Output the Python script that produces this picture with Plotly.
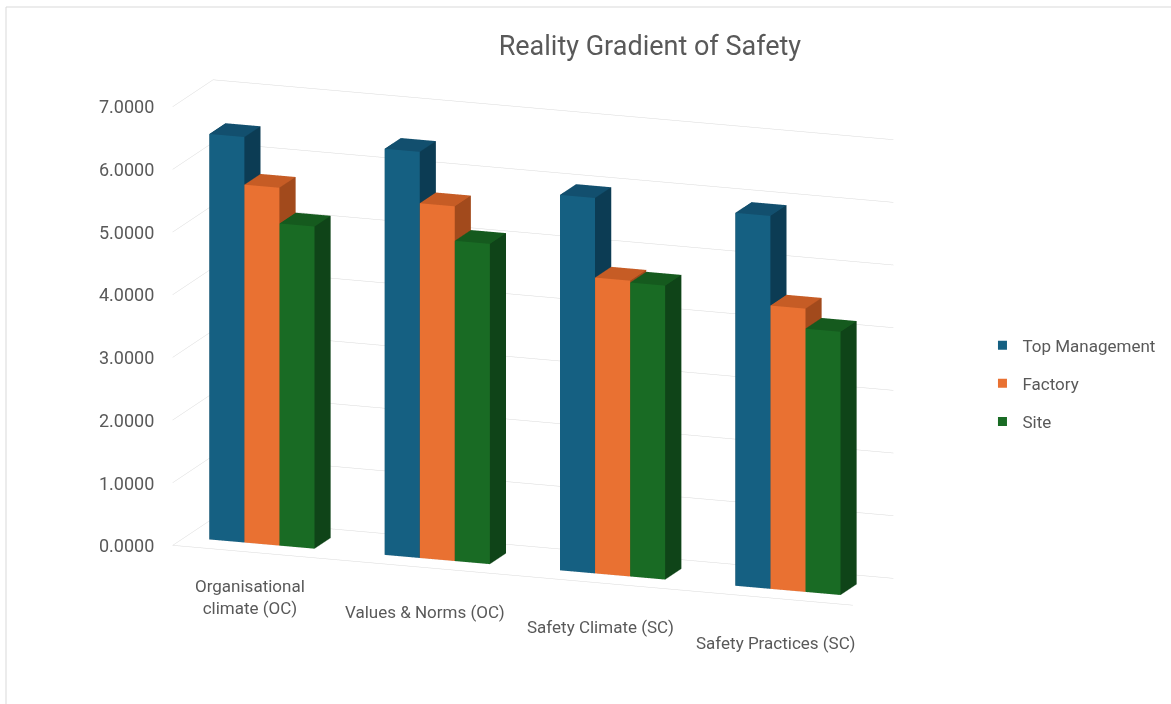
import math
import plotly.graph_objects as go

# ---- data ----
categories = ["Organisational<br>climate (OC)", "Values & Norms (OC)",
              "Safety Climate (SC)", "Safety Practices (SC)"]
series_names = ["Top Management", "Factory", "Site"]
top_management = [6.47, 6.48, 5.99, 5.95]
factory = [5.71, 5.66, 4.72, 4.52]
site = [5.14, 5.11, 4.69, 4.20]
z_ticks = [0, 1, 2, 3, 4, 5, 6, 7]

series_values = [top_management, factory, site]
front_colors = ["#156082", "#E97132", "#196B24"]
side_colors = ["#0C3C54", "#A24A1C", "#0F4418"]
top_colors = ["#124F6E", "#C65C25", "#155A1E"]

bar_w = 0.2
y0, y1 = 0.3, 0.7
x_range = [-0.44, 3.44]

fig = go.Figure()

for s, vals in enumerate(series_values):
    X, Y, Z, I, J, K, FC = [], [], [], [], [], [], []
    for c, v in enumerate(vals):
        xa = c - 1.5 * bar_w + s * bar_w
        xb = xa + bar_w
        base = len(X)
        pts = [(xa, y0, 0), (xb, y0, 0), (xb, y1, 0), (xa, y1, 0),
               (xa, y0, v), (xb, y0, v), (xb, y1, v), (xa, y1, v)]
        for p in pts:
            X.append(p[0]); Y.append(p[1]); Z.append(p[2])
        faces = [((0, 1, 5), front_colors[s]), ((0, 5, 4), front_colors[s]),
                 ((3, 2, 6), side_colors[s]), ((3, 6, 7), side_colors[s]),
                 ((0, 3, 7), side_colors[s]), ((0, 7, 4), side_colors[s]),
                 ((1, 2, 6), side_colors[s]), ((1, 6, 5), side_colors[s]),
                 ((4, 5, 6), top_colors[s]), ((4, 6, 7), top_colors[s]),
                 ((0, 1, 2), side_colors[s]), ((0, 2, 3), side_colors[s])]
        for (a, b, d), col in faces:
            I.append(base + a); J.append(base + b); K.append(base + d); FC.append(col)
    fig.add_trace(go.Mesh3d(
        x=X, y=Y, z=Z, i=I, j=J, k=K, facecolor=FC, flatshading=True,
        lighting=dict(ambient=1.0, diffuse=0.0, specular=0.0, roughness=1.0, fresnel=0.0),
        hoverinfo="skip", showlegend=False, name=series_names[s]))

# legend entries
for s, name in enumerate(series_names):
    fig.add_trace(go.Scatter(
        x=[None], y=[None], mode="markers", name=name, legendgroup=name,
        marker=dict(symbol="square", size=9, color=front_colors[s])))

grid_col = "#D9D9D9"
font_col = "#595959"
fam = "Roboto, Arial, sans-serif"

# tick labels as scene annotations (positioned in data space)
annotations = []
for t in z_ticks:
    annotations.append(dict(x=x_range[0], y=0, z=t, text=f"{t:.4f}", showarrow=False,
                            xanchor="right", yanchor="middle", xshift=-17,
                            font=dict(size=18, color=font_col, family=fam)))
for c, label in enumerate(categories):
    annotations.append(dict(x=c, y=0, z=0, text=label, showarrow=False,
                            xanchor="center", yanchor="middle", yshift=-44,
                            font=dict(size=17, color=font_col, family=fam)))

A = math.radians(20)
E = math.radians(14)
r = 2.10
eye = dict(x=r * math.sin(A) * math.cos(E), y=-r * math.cos(A) * math.cos(E), z=r * math.sin(E))

fig.update_layout(
    width=1171, height=704,
    margin=dict(l=0, r=0, t=0, b=0),
    paper_bgcolor="white", plot_bgcolor="white",
    font=dict(family=fam, color=font_col),
    title=dict(text="Reality Gradient of Safety", x=0.555, y=0.936,
               xanchor="center", yanchor="middle",
               font=dict(size=27, color=font_col, family=fam)),
    showlegend=True,
    legend=dict(x=0.839, y=0.455, xanchor="left", yanchor="middle",
                font=dict(size=17, color=font_col, family=fam),
                tracegroupgap=13, bgcolor="rgba(0,0,0,0)"),
    xaxis=dict(visible=False), yaxis=dict(visible=False),
    hovermode=False,
    scene=dict(
        domain=dict(x=[0.105, 0.805], y=[0.093, 0.933]),
        aspectmode="manual", aspectratio=dict(x=2.45, y=0.4, z=1.53),
        camera=dict(eye=eye, center=dict(x=0, y=0, z=0), up=dict(x=0, y=0, z=1),
                    projection=dict(type="orthographic")),
        xaxis=dict(range=x_range, tickvals=[0, 1, 2, 3], showticklabels=False,
                   showgrid=False, zeroline=False, showbackground=False,
                   showline=True, linecolor=grid_col, ticks="", title=dict(text=""),
                   showspikes=False),
        yaxis=dict(range=[0, 1], showticklabels=False, showgrid=False, zeroline=False,
                   showbackground=False, showline=False, ticks="", title=dict(text=""),
                   showspikes=False),
        zaxis=dict(range=[0, 7], tickvals=z_ticks, showticklabels=False,
                   showgrid=True, gridcolor=grid_col, gridwidth=1, zeroline=False,
                   showbackground=False, showline=False, ticks="", title=dict(text=""),
                   showspikes=False),
        bgcolor="white",
        annotations=annotations,
    ),
    shapes=[dict(type="rect", xref="paper", yref="paper",
                 x0=6 / 1171, x1=1.02, y0=-0.02, y1=1 - 7 / 704,
                 line=dict(color="#D9D9D9", width=1), fillcolor="rgba(0,0,0,0)")],
)

fig.write_html("out.html")
